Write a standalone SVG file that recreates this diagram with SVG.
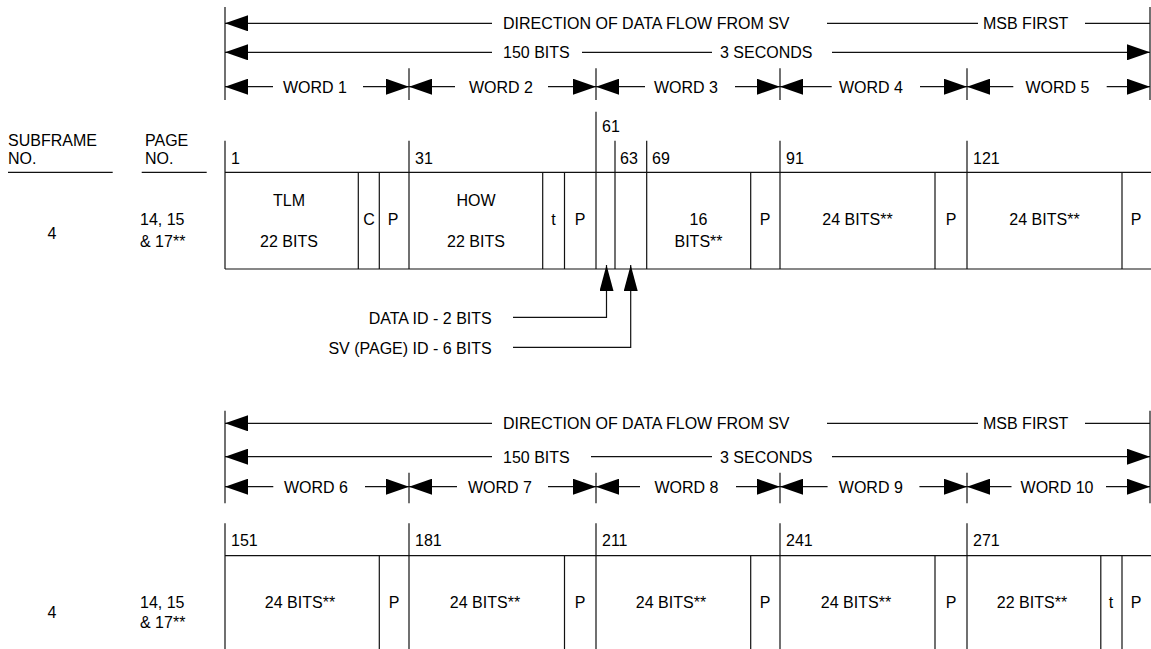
<svg xmlns="http://www.w3.org/2000/svg" width="1151" height="649" viewBox="0 0 1151 649">
<defs>
<style>
.t{font-family:"Liberation Sans",Arial,sans-serif;font-size:16px;fill:#000}
.m{text-anchor:middle}
.e{text-anchor:end}
.ln{stroke:#111;stroke-width:1.2;fill:none}
.s{marker-start:url(#ah)}
.n{marker-end:url(#ah)}
</style>
<marker id="ah" viewBox="0 0 23 16" markerWidth="23" markerHeight="16" refX="23" refY="8" markerUnits="userSpaceOnUse" orient="auto-start-reverse">
<path d="M0,0 L23,8 L0,16 Z" fill="#000"/>
</marker>
<marker id="au" viewBox="0 0 26 14" markerWidth="26" markerHeight="14" refX="26" refY="7" markerUnits="userSpaceOnUse" orient="auto">
<path d="M0,0 L26,7 L0,14 Z" fill="#000"/>
</marker>
</defs>
<rect width="1151" height="649" fill="#fff"/>

<g id="row-labels">
<text class="t" x="8" y="145.7">SUBFRAME</text>
<text class="t" x="8" y="164">NO.</text>
<line class="ln" x1="8" y1="172.3" x2="112.7" y2="172.3"/>
<text class="t" x="145" y="145.7">PAGE</text>
<text class="t" x="145" y="164">NO.</text>
<line class="ln" x1="141.7" y1="172.3" x2="206.7" y2="172.3"/>
<text class="t m" x="52" y="239">4</text>
<text class="t" x="140" y="225">14, 15</text>
<text class="t" x="140" y="246.7">&amp; 17**</text>
<text class="t m" x="52" y="617.7">4</text>
<text class="t" x="140" y="607.7">14, 15</text>
<text class="t" x="140" y="628.3">&amp; 17**</text>
</g>

<g id="header-1">
<line class="ln" x1="225" y1="7" x2="225" y2="100"/>
<line class="ln" x1="1150" y1="7" x2="1150" y2="100"/>
<line class="ln s" x1="225" y1="23.3" x2="492" y2="23.3"/>
<text class="t" x="503" y="29.3">DIRECTION OF DATA FLOW FROM SV</text>
<line class="ln" x1="827" y1="23.3" x2="978" y2="23.3"/>
<text class="t" x="983" y="29.3">MSB FIRST</text>
<line class="ln" x1="1085" y1="23.3" x2="1150" y2="23.3"/>
<line class="ln s" x1="225" y1="52.3" x2="492" y2="52.3"/>
<text class="t" x="503" y="58.3">150 BITS</text>
<line class="ln" x1="582" y1="52.3" x2="712" y2="52.3"/>
<text class="t" x="720" y="58.3">3 SECONDS</text>
<line class="ln n" x1="832" y1="52.3" x2="1150" y2="52.3"/>
<line class="ln" x1="409" y1="68.3" x2="409" y2="100"/>
<line class="ln" x1="596" y1="68.3" x2="596" y2="100"/>
<line class="ln" x1="780" y1="68.3" x2="780" y2="100"/>
<line class="ln" x1="967" y1="68.3" x2="967" y2="100"/>
<line class="ln s" x1="225" y1="86.7" x2="273" y2="86.7"/>
<text class="t m" x="315" y="92.7">WORD 1</text>
<line class="ln n" x1="363" y1="86.7" x2="409" y2="86.7"/>
<line class="ln s" x1="409" y1="86.7" x2="455" y2="86.7"/>
<text class="t m" x="501" y="92.7">WORD 2</text>
<line class="ln n" x1="548" y1="86.7" x2="596" y2="86.7"/>
<line class="ln s" x1="596" y1="86.7" x2="645" y2="86.7"/>
<text class="t m" x="686" y="92.7">WORD 3</text>
<line class="ln n" x1="735" y1="86.7" x2="780" y2="86.7"/>
<line class="ln s" x1="780" y1="86.7" x2="831.7" y2="86.7"/>
<text class="t m" x="871" y="92.7">WORD 4</text>
<line class="ln n" x1="920" y1="86.7" x2="967" y2="86.7"/>
<line class="ln s" x1="967" y1="86.7" x2="1013.3" y2="86.7"/>
<text class="t m" x="1057.5" y="92.7">WORD 5</text>
<line class="ln n" x1="1106.7" y1="86.7" x2="1150" y2="86.7"/>
</g>

<g id="table-1">
<line class="ln" x1="225" y1="172.3" x2="1151" y2="172.3"/>
<line class="ln" x1="225" y1="269" x2="1151" y2="269"/>
<line class="ln" x1="225" y1="140.7" x2="225" y2="269"/>
<line class="ln" x1="409" y1="140.7" x2="409" y2="269"/>
<line class="ln" x1="596" y1="111.7" x2="596" y2="269"/>
<line class="ln" x1="615" y1="140.7" x2="615" y2="269"/>
<line class="ln" x1="646.7" y1="140.7" x2="646.7" y2="269"/>
<line class="ln" x1="780" y1="140.7" x2="780" y2="269"/>
<line class="ln" x1="967" y1="140.7" x2="967" y2="269"/>
<line class="ln" x1="358.3" y1="172.3" x2="358.3" y2="269"/>
<line class="ln" x1="379.3" y1="172.3" x2="379.3" y2="269"/>
<line class="ln" x1="542.7" y1="172.3" x2="542.7" y2="269"/>
<line class="ln" x1="564.5" y1="172.3" x2="564.5" y2="269"/>
<line class="ln" x1="750.7" y1="172.3" x2="750.7" y2="269"/>
<line class="ln" x1="935" y1="172.3" x2="935" y2="269"/>
<line class="ln" x1="1122" y1="172.3" x2="1122" y2="269"/>
<text class="t" x="231" y="164">1</text>
<text class="t" x="415" y="164">31</text>
<text class="t" x="602" y="132.3">61</text>
<text class="t" x="620" y="164">63</text>
<text class="t" x="652" y="164">69</text>
<text class="t" x="786" y="164">91</text>
<text class="t" x="973" y="164">121</text>
<text class="t m" x="289" y="206">TLM</text>
<text class="t m" x="289" y="247">22 BITS</text>
<text class="t m" x="369" y="225">C</text>
<text class="t m" x="393" y="225">P</text>
<text class="t m" x="476" y="206">HOW</text>
<text class="t m" x="476" y="247">22 BITS</text>
<text class="t m" x="553.6" y="225">t</text>
<text class="t m" x="580" y="225">P</text>
<text class="t m" x="698.5" y="225">16</text>
<text class="t m" x="698.5" y="246.7">BITS**</text>
<text class="t m" x="765" y="225">P</text>
<text class="t m" x="857.5" y="225">24 BITS**</text>
<text class="t m" x="951" y="225">P</text>
<text class="t m" x="1044.5" y="225">24 BITS**</text>
<text class="t m" x="1136" y="225">P</text>
</g>

<g id="id-labels">
<text class="t e" x="491.7" y="324">DATA ID - 2 BITS</text>
<text class="t e" x="491.7" y="354">SV (PAGE) ID - 6 BITS</text>
</g>

<g id="connectors">
<path class="ln" d="M513,317.3 H606.5 V265" marker-end="url(#au)"/>
<path class="ln" d="M513,347.3 H630.7 V265" marker-end="url(#au)"/>
</g>

<g id="header-2">
<line class="ln" x1="225" y1="410.7" x2="225" y2="503.3"/>
<line class="ln" x1="1150" y1="410.7" x2="1150" y2="503.3"/>
<line class="ln s" x1="225" y1="423.3" x2="492" y2="423.3"/>
<text class="t" x="503" y="429.3">DIRECTION OF DATA FLOW FROM SV</text>
<line class="ln" x1="827" y1="423.3" x2="978" y2="423.3"/>
<text class="t" x="983" y="429.3">MSB FIRST</text>
<line class="ln" x1="1085" y1="423.3" x2="1150" y2="423.3"/>
<line class="ln s" x1="225" y1="456.7" x2="492" y2="456.7"/>
<text class="t" x="503" y="462.7">150 BITS</text>
<line class="ln" x1="591" y1="456.7" x2="712" y2="456.7"/>
<text class="t" x="720" y="462.7">3 SECONDS</text>
<line class="ln n" x1="832" y1="456.7" x2="1150" y2="456.7"/>
<line class="ln" x1="409" y1="472.7" x2="409" y2="503.3"/>
<line class="ln" x1="596" y1="472.7" x2="596" y2="503.3"/>
<line class="ln" x1="780" y1="472.7" x2="780" y2="503.3"/>
<line class="ln" x1="967" y1="472.7" x2="967" y2="503.3"/>
<line class="ln s" x1="225" y1="486.7" x2="273.3" y2="486.7"/>
<text class="t m" x="316" y="492.7">WORD 6</text>
<line class="ln n" x1="365" y1="486.7" x2="409" y2="486.7"/>
<line class="ln s" x1="409" y1="486.7" x2="457" y2="486.7"/>
<text class="t m" x="500" y="492.7">WORD 7</text>
<line class="ln n" x1="548" y1="486.7" x2="596" y2="486.7"/>
<line class="ln s" x1="596" y1="486.7" x2="640" y2="486.7"/>
<text class="t m" x="686.5" y="492.7">WORD 8</text>
<line class="ln n" x1="736" y1="486.7" x2="780" y2="486.7"/>
<line class="ln s" x1="780" y1="486.7" x2="827.6" y2="486.7"/>
<text class="t m" x="870.8" y="492.7">WORD 9</text>
<line class="ln n" x1="919.4" y1="486.7" x2="967" y2="486.7"/>
<line class="ln s" x1="967" y1="486.7" x2="1011.5" y2="486.7"/>
<text class="t m" x="1057" y="492.7">WORD 10</text>
<line class="ln n" x1="1106" y1="486.7" x2="1150" y2="486.7"/>
</g>

<g id="table-2">
<line class="ln" x1="225" y1="555.7" x2="1151" y2="555.7"/>
<line class="ln" x1="225" y1="523.3" x2="225" y2="649"/>
<line class="ln" x1="409" y1="523.3" x2="409" y2="649"/>
<line class="ln" x1="596" y1="523.3" x2="596" y2="649"/>
<line class="ln" x1="780" y1="523.3" x2="780" y2="649"/>
<line class="ln" x1="967" y1="523.3" x2="967" y2="649"/>
<line class="ln" x1="379.3" y1="555.7" x2="379.3" y2="649"/>
<line class="ln" x1="564.5" y1="555.7" x2="564.5" y2="649"/>
<line class="ln" x1="750.7" y1="555.7" x2="750.7" y2="649"/>
<line class="ln" x1="935" y1="555.7" x2="935" y2="649"/>
<line class="ln" x1="1100.8" y1="555.7" x2="1100.8" y2="649"/>
<line class="ln" x1="1122" y1="555.7" x2="1122" y2="649"/>
<text class="t" x="231" y="546">151</text>
<text class="t" x="415" y="546">181</text>
<text class="t" x="602" y="546">211</text>
<text class="t" x="786" y="546">241</text>
<text class="t" x="973" y="546">271</text>
<text class="t m" x="300" y="607.7">24 BITS**</text>
<text class="t m" x="394" y="607.7">P</text>
<text class="t m" x="485" y="607.7">24 BITS**</text>
<text class="t m" x="580" y="607.7">P</text>
<text class="t m" x="671" y="607.7">24 BITS**</text>
<text class="t m" x="765" y="607.7">P</text>
<text class="t m" x="856" y="607.7">24 BITS**</text>
<text class="t m" x="951" y="607.7">P</text>
<text class="t m" x="1032" y="607.7">22 BITS**</text>
<text class="t m" x="1111" y="607.7">t</text>
<text class="t m" x="1136" y="607.7">P</text>
</g>
</svg>
